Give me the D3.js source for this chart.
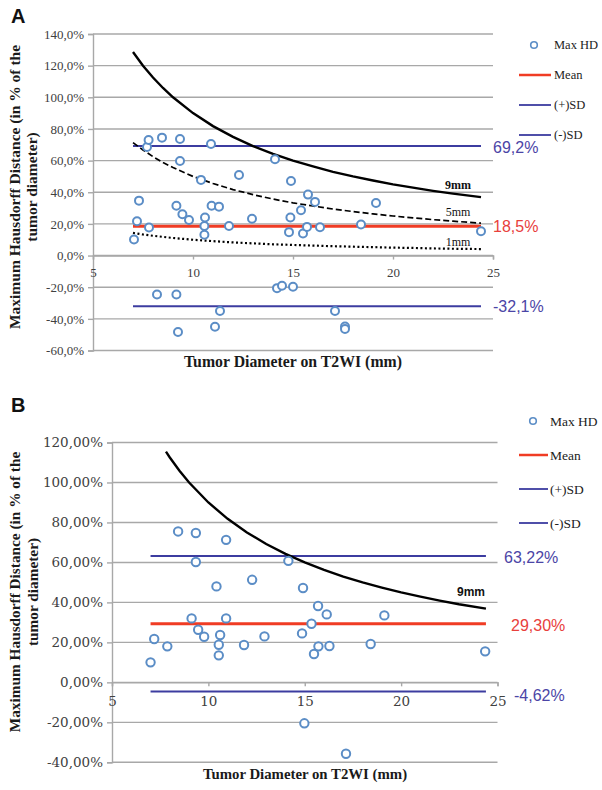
<!DOCTYPE html>
<html><head><meta charset="utf-8">
<script src="https://cdn.jsdelivr.net/npm/d3@7"></script>
<style>body{margin:0;background:#fff}svg{display:block}</style>
</head><body>
<svg id="c" width="602" height="790"></svg>
<script>
// ---------- Panel A data ----------
const aX = [7.05,7.2,7.3,7.7,7.78,7.8,8.2,8.45,9.17,9.17,9.25,9.35,9.35,9.47,9.8,10.4,10.57,10.57,10.6,10.9,10.93,11.1,11.3,11.35,11.8,12.3,12.95,14.1,14.2,14.45,14.8,14.87,14.9,15.0,15.4,15.5,15.7,15.75,16.1,16.35,17.1,17.6,17.6,18.4,19.15,24.4];
const aY = [10.1,21.7,34.7,68.6,73.0,17.7,-24.6,74.5,31.5,-24.6,-48.3,73.6,59.7,26.1,22.5,47.8,18.7,13.2,24.0,70.5,31.5,-45.0,30.9,-35.0,18.7,50.9,23.2,60.8,-20.6,-19.1,14.8,24.0,47.1,-19.7,28.6,13.9,18.1,38.5,33.9,17.9,-35.0,-44.8,-46.4,19.6,33.2,15.4];
const aMean = 18.5, aPlusSD = 69.2, aMinusSD = -32.1;
const aLineRange = [7, 24.4];
const aCurveX = [7,7.5,8,8.5,9,10,11,12,13,14,15,16,17,18,19,20,21,22,23,24.4];
const aCurve9 = [128.6,120.0,112.5,105.9,100.0,90.0,81.8,75.0,69.2,64.3,60.0,56.3,52.9,50.0,47.4,45.0,42.9,40.9,39.1,36.9];
const aCurve5 = [71.4,66.7,62.5,58.8,55.6,50.0,45.5,41.7,38.5,35.7,33.3,31.3,29.4,27.8,26.3,25.0,23.8,22.7,21.7,20.5];
const aCurve1 = [14.3,13.3,12.5,11.8,11.1,10.0,9.1,8.3,7.7,7.1,6.7,6.3,5.9,5.6,5.3,5.0,4.8,4.5,4.3,4.1];
const aYTicks = [-60,-40,-20,0,20,40,60,80,100,120,140];
const aYTickLabels = ["-60,0%","-40,0%","-20,0%","0,0%","20,0%","40,0%","60,0%","80,0%","100,0%","120,0%","140,0%"];
const aLabels = ["69,2%","18,5%","-32,1%"];

// ---------- Panel B data ----------
const bX = [7.0,7.19,7.87,8.43,9.13,9.35,9.35,9.47,9.78,10.42,10.54,10.54,10.61,10.92,10.92,11.85,12.27,12.91,14.15,14.86,14.91,14.98,15.35,15.48,15.69,15.71,16.14,16.28,17.14,18.42,19.13,24.36];
const bY = [10.0,21.7,18.0,75.5,32.0,74.7,60.2,26.3,22.8,48.0,18.8,13.5,23.7,71.3,32.0,18.7,51.3,23.0,60.8,24.5,47.2,-20.5,29.3,14.2,38.2,18.0,34.0,18.2,-35.7,19.2,33.5,15.5];
const bMean = 29.30, bPlusSD = 63.22, bMinusSD = -4.62;
const bLineRange = [7, 24.4];
const bCurveX = [7.8,8,8.5,9,10,11,12,13,14,15,16,17,18,19,20,21,22,23,24.4];
const bCurve9 = [115.4,112.5,105.9,100.0,90.0,81.8,75.0,69.2,64.3,60.0,56.3,52.9,50.0,47.4,45.0,42.9,40.9,39.1,36.9];
const bYTicks = [-40,-20,0,20,40,60,80,100,120];
const bYTickLabels = ["-40,00%","-20,00%","0,00%","20,00%","40,00%","60,00%","80,00%","100,00%","120,00%"];
const bLabels = ["63,22%","29,30%","-4,62%"];

const xTicks = [5,10,15,20,25];
const legendItems = ["Max HD","Mean","(+)SD","(-)SD"];
const yTitle = ["Maximum Hausdorff Distance (in % of the","tumor diameter)"];
const xTitle = "Tumor Diameter on T2WI (mm)";

// ---------- styles ----------
const C = {grid:"#a8a8a8", tick:"#404040", mean:"#f03c24", sd:"#3c3ca0", sdLabel:"#4b45a6", meanLabel:"#e8403c", marker:"#5b8dc6", curve:"#000"};

const svg = d3.select("#c");

function panel(o){
  const g = svg.append("g");
  const x = d3.scaleLinear().domain([5,25]).range(o.xr);
  const y = d3.scaleLinear().domain(o.yd).range(o.yr);
  g.selectAll("line.grid").data(o.yTicks).join("line")
    .attr("x1", o.xr[0]).attr("x2", o.xr[1])
    .attr("y1", d=>y(d)).attr("y2", d=>y(d))
    .attr("stroke", C.grid).attr("stroke-width", 1.4);
  const ya = d3.axisLeft(y).tickValues(o.yTicks).tickSize(5).tickFormat((d,i)=>o.yTickLabels[i]);
  const yg = g.append("g").attr("transform",`translate(${o.xr[0]},0)`).call(ya);
  yg.select(".domain").attr("stroke", C.grid).attr("stroke-width",1.4);
  yg.selectAll(".tick line").attr("stroke", C.grid).attr("stroke-width",1.4);
  yg.selectAll(".tick text").attr("font-family", o.tickFont).attr("font-size", o.tickSize).attr("fill", C.tick).attr("x", -9);
  const xa = d3.axisBottom(x).tickValues(xTicks).tickSize(4).tickFormat(d3.format("d"));
  const xg = g.append("g").attr("transform",`translate(0,${y(0)})`).call(xa);
  xg.select(".domain").attr("stroke", C.grid).attr("stroke-width",1.4);
  xg.selectAll(".tick line").attr("stroke", C.grid).attr("stroke-width",1.4);
  xg.selectAll(".tick text").attr("font-family", o.tickFont).attr("font-size", o.tickSize).attr("fill", C.tick).attr("y", o.xLabDy).attr("dy","0");

  const hl = (v,col,w)=>g.append("line").attr("x1",x(o.lineRange[0])).attr("x2",x(o.lineRange[1]))
    .attr("y1",y(v)).attr("y2",y(v)).attr("stroke",col).attr("stroke-width",w);
  hl(o.plus, C.sd, 2);
  hl(o.minus, C.sd, 2);
  const line = d3.line().x(d=>x(d[0])).y(d=>y(d[1]));
  o.curves.forEach(c=>{
    g.append("path").datum(o.curveX.map((v,i)=>[v,c.v[i]])).attr("d",line)
      .attr("fill","none").attr("stroke",C.curve).attr("stroke-width",c.w)
      .attr("stroke-dasharray",c.dash||null);
  });
  hl(o.mean, C.mean, 3);
  g.selectAll("circle.pt").data(o.xs.map((v,i)=>[v,o.ys[i]])).join("circle")
    .attr("cx",d=>x(d[0])).attr("cy",d=>y(d[1])).attr("r",o.r)
    .attr("fill","#fff").attr("stroke",C.marker).attr("stroke-width",2);
  o.curveLabels.forEach(c=>{
    g.append("text").attr("x",c.x).attr("y",c.y).attr("text-anchor","middle")
      .attr("font-family",c.font).attr("font-weight",c.bold?"bold":"normal")
      .attr("font-size",c.size).attr("fill","#111").text(c.t);
  });
  const vals=[[o.plus,C.sdLabel],[o.mean,C.meanLabel],[o.minus,C.sdLabel]];
  vals.forEach((v,i)=>{
    g.append("text").attr("x",o.valX[i]).attr("y",y(v[0])+o.valDy[i])
      .attr("font-family","Liberation Sans, Arial, sans-serif").attr("font-size",o.valSize)
      .attr("fill",v[1]).text(o.labels[i]);
  });
  const lg = g.append("g");
  legendItems.forEach((t,i)=>{
    const ly = o.leg.y0 + i*o.leg.dy;
    if(i===0){
      lg.append("circle").attr("cx",o.leg.mx).attr("cy",ly).attr("r",o.leg.mr)
        .attr("fill","#fff").attr("stroke",C.marker).attr("stroke-width",1.6);
    } else {
      lg.append("line").attr("x1",o.leg.l0).attr("x2",o.leg.l1).attr("y1",ly).attr("y2",ly)
        .attr("stroke", i===1?C.mean:C.sd).attr("stroke-width", i===1?2.5:1.8);
    }
    lg.append("text").attr("x",o.leg.tx).attr("y",ly+o.leg.tdy)
      .attr("font-family","Liberation Serif, serif").attr("font-size",o.leg.size)
      .attr("fill","#222").text(t);
  });
  yTitle.forEach((t,i)=>{
    g.append("text").attr("transform",`translate(${o.yTitleX[i]},${o.yTitleY}) rotate(-90)`)
      .attr("text-anchor","middle").attr("font-family","Liberation Serif, serif")
      .attr("font-weight","bold").attr("font-size",o.yTitleSize).attr("fill","#1a1a1a").text(t);
  });
  g.append("text").attr("x",o.xTitleX).attr("y",o.xTitleY).attr("text-anchor","middle")
    .attr("font-family","Liberation Serif, serif").attr("font-weight","bold")
    .attr("font-size",o.xTitleSize).attr("fill","#1a1a1a").text(xTitle);
  g.append("text").attr("x",o.letter[0]).attr("y",o.letter[1]).attr("font-family","Liberation Sans, Arial, sans-serif")
    .attr("font-weight","bold").attr("font-size",20).attr("fill","#111").text(o.letter[2]);
}

panel({
  xr:[93,493], yd:[-60,140], yr:[350.5,34], yTicks:aYTicks, yTickLabels:aYTickLabels,
  tickFont:"Liberation Serif, serif", tickSize:13, xLabDy:21,
  lineRange:aLineRange, plus:aPlusSD, minus:aMinusSD, mean:aMean,
  curveX:aCurveX,
  curves:[{v:aCurve9,w:2.4},{v:aCurve5,w:1.7,dash:"6,3"},{v:aCurve1,w:2.2,dash:"2,2.5"}],
  xs:aX, ys:aY, r:4,
  curveLabels:[{t:"9mm",x:458,y:189,font:"Liberation Serif, serif",bold:true,size:12},
               {t:"5mm",x:458,y:216,font:"Liberation Serif, serif",bold:false,size:12},
               {t:"1mm",x:458,y:246,font:"Liberation Serif, serif",bold:false,size:12}],
  labels:aLabels, valX:[493,493,493], valDy:[7,6,6], valSize:16,
  leg:{y0:45,dy:30,mx:534,mr:3.3,l0:519,l1:551,tx:554,tdy:4,size:12.5},
  yTitleX:[20,37], yTitleY:187, yTitleSize:15.5, xTitleSize:15.8, xTitleX:293, xTitleY:367,
  letter:[11,23,"A"]
});

panel({
  xr:[112,497.5], yd:[-40,120], yr:[762.3,442.5], yTicks:bYTicks, yTickLabels:bYTickLabels,
  tickFont:"DejaVu Serif, serif", tickSize:13.5, xLabDy:24,
  lineRange:bLineRange, plus:bPlusSD, minus:bMinusSD, mean:bMean,
  curveX:bCurveX,
  curves:[{v:bCurve9,w:2.4}],
  xs:bX, ys:bY, r:4.2,
  curveLabels:[{t:"9mm",x:471,y:596,font:"Liberation Sans, Arial, sans-serif",bold:true,size:12}],
  labels:bLabels, valX:[504,511,514], valDy:[7,7,9], valSize:16,
  leg:{y0:421,dy:34,mx:533,mr:3.3,l0:519,l1:548,tx:550,tdy:5,size:13.5},
  yTitleX:[20,38], yTitleY:592, yTitleSize:15.3, xTitleSize:14.8, xTitleX:305, xTitleY:779,
  letter:[11,412,"B"]
});
</script>
</body></html>
